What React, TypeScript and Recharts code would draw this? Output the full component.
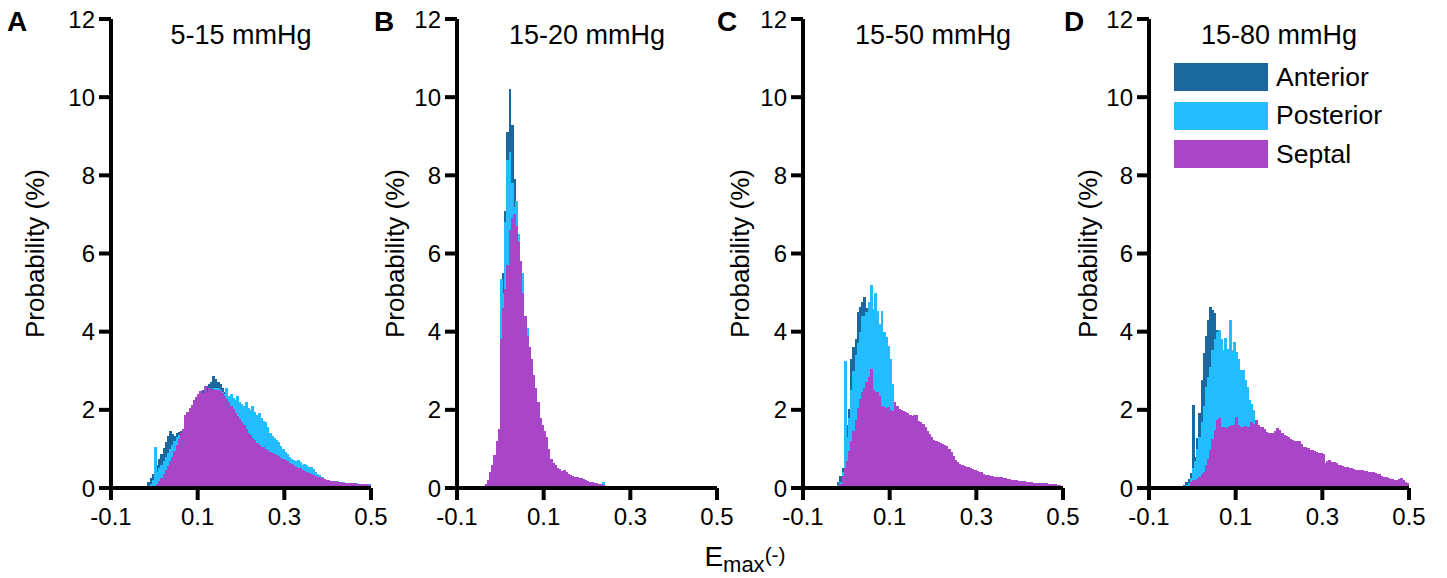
import React from 'react';
import { BarChart, Bar, XAxis, YAxis, Legend } from 'recharts';

// histogram bins: 0.005 wide, first bin starts at -0.04
const BIN_START = -0.04;
const BIN_WIDTH = 0.005;
const NBINS = 108;

const panelLetters = ['A', 'B', 'C', 'D'];
const panelTitles = ['5-15 mmHg', '15-20 mmHg', '15-50 mmHg', '15-80 mmHg'];
const seriesKeys = ['anterior', 'posterior', 'septal'];
const seriesNames = ['Anterior', 'Posterior', 'Septal'];
const seriesColors = ['#1b689e', '#22bcff', '#a846c7'];
const xTicks = [-0.1, 0.1, 0.3, 0.5];
const yTicks = [0, 2, 4, 6, 8, 10, 12];

// Panel A: 5-15 mmHg
const anteriorA = [0, 0, 0, 0, 0.05, 0.15, 0.25, 0.36, 0.45, 0.6, 0.74, 0.88, 1.02, 1.18, 1.32, 1.46, 1.38, 1.33, 1.4, 1.43, 1.45, 1.5, 1.75, 1.85, 1.95, 2.05, 2.15, 2.25, 2.35, 2.42, 2.5, 2.56, 2.62, 2.66, 2.72, 2.87, 2.8, 2.72, 2.66, 2.56, 2.45, 2.35, 2.28, 2.2, 2.1, 2.0, 1.9, 1.8, 1.7, 1.62, 1.55, 1.48, 1.4, 1.32, 1.25, 1.18, 1.12, 1.05, 1.0, 0.95, 0.9, 0.85, 0.8, 0.75, 0.7, 0.66, 0.62, 0.58, 0.54, 0.5, 0.47, 0.44, 0.41, 0.38, 0.35, 0.32, 0.3, 0.27, 0.25, 0.23, 0.21, 0.19, 0.17, 0.16, 0.15, 0.14, 0.13, 0.12, 0.11, 0.1, 0.09, 0.09, 0.08, 0.08, 0.07, 0.07, 0.06, 0.06, 0.05, 0.05, 0.05, 0.04, 0.04, 0.04, 0.03, 0.03, 0.03, 0.03];
const posteriorA = [0, 0, 0, 0, 0.01, 0.05, 0.1, 0.2, 1.05, 0.4, 0.5, 0.6, 0.7, 0.8, 0.9, 1.0, 1.1, 1.2, 1.3, 1.35, 1.4, 1.5, 1.6, 1.7, 1.8, 1.9, 2.0, 2.1, 2.2, 2.3, 2.35, 2.4, 2.45, 2.5, 2.5, 2.55, 2.55, 2.55, 2.5, 2.45, 2.4, 2.55, 2.35, 2.4, 2.3, 2.25, 2.35, 2.2, 2.15, 2.1, 2.2, 2.05, 2.0, 2.1, 1.95, 1.88, 1.92, 1.8, 1.72, 1.68, 1.55, 1.4, 1.32, 1.28, 1.22, 1.17, 1.08, 1.0, 0.92, 0.86, 0.8, 0.75, 0.72, 0.68, 0.72, 0.66, 0.6, 0.62, 0.58, 0.55, 0.53, 0.48, 0.42, 0.36, 0.32, 0.27, 0.23, 0.21, 0.2, 0.19, 0.18, 0.18, 0.17, 0.16, 0.16, 0.15, 0.14, 0.14, 0.13, 0.13, 0.12, 0.12, 0.11, 0.11, 0.1, 0.1, 0.1, 0.09];
const septalA = [0, 0, 0, 0, 0, 0, 0, 0, 0.03, 0.1, 0.18, 0.26, 0.35, 0.45, 0.56, 0.68, 0.8, 0.95, 1.1, 1.25, 1.42, 1.52, 1.88, 1.95, 2.05, 2.12, 2.25, 2.32, 2.4, 2.48, 2.42, 2.6, 2.45, 2.55, 2.5, 2.53, 2.52, 2.5, 2.48, 2.42, 2.36, 2.28, 2.2, 2.1, 2.02, 1.93, 1.85, 1.76, 1.68, 1.6, 1.5, 1.42, 1.36, 1.28, 1.22, 1.15, 1.1, 1.06, 1.04, 1.0, 0.97, 0.93, 0.9, 0.87, 0.84, 0.81, 0.78, 0.75, 0.71, 0.68, 0.64, 0.61, 0.58, 0.55, 0.52, 0.5, 0.47, 0.44, 0.41, 0.39, 0.36, 0.34, 0.31, 0.29, 0.27, 0.25, 0.23, 0.21, 0.2, 0.19, 0.18, 0.17, 0.16, 0.16, 0.15, 0.14, 0.14, 0.13, 0.13, 0.12, 0.12, 0.11, 0.11, 0.1, 0.1, 0.09, 0.09, 0.08];

// Panel B: 15-20 mmHg
const anteriorB = [0, 0, 0.05, 0.2, 0.4, 0.7, 1.0, 1.4, 3.5, 5.5, 7.1, 9.1, 10.2, 9.3, 7.9, 6.4, 6.0, 5.5, 4.8, 4.2, 3.7, 3.4, 3.1, 2.7, 2.4, 2.0, 1.7, 1.5, 1.35, 1.2, 0.95, 0.7, 0.6, 0.54, 0.48, 0.44, 0.4, 0.42, 0.37, 0.34, 0.3, 0.28, 0.26, 0.24, 0.23, 0.22, 0.2, 0.18, 0.16, 0.14, 0.13, 0.12, 0.1, 0.09, 0.08, 0.06, 0.05, 0.04, 0.03, 0.02, 0.02, 0.01];
const posteriorB = [0, 0.05, 0.15, 0.3, 0.5, 0.8, 1.1, 1.45, 5.35, 5.0, 6.8, 8.4, 8.6, 7.8, 7.2, 7.35, 6.5, 5.8, 5.5, 4.4, 4.1, 3.5, 3.2, 2.8, 2.5, 2.1, 1.75, 1.55, 1.4, 1.25, 0.98, 0.72, 0.62, 0.56, 0.5, 0.46, 0.42, 0.45, 0.39, 0.35, 0.32, 0.3, 0.28, 0.26, 0.25, 0.24, 0.23, 0.2, 0.17, 0.15, 0.14, 0.12, 0.11, 0.1, 0.09, 0.15, 0.05, 0.04, 0.03, 0.02, 0.02, 0.01];
const septalB = [0, 0.1, 0.2, 0.4, 0.6, 0.85, 1.2, 1.5, 3.8, 4.6, 5.1, 5.7, 6.6, 6.9, 7.0, 6.7, 6.3, 5.8, 5.0, 4.4, 3.9, 3.6, 3.3, 2.9, 2.55, 2.2, 1.8, 1.6, 1.45, 1.3, 1.0, 0.75, 0.65, 0.58, 0.52, 0.48, 0.44, 0.47, 0.41, 0.37, 0.33, 0.31, 0.29, 0.27, 0.26, 0.25, 0.22, 0.2, 0.18, 0.16, 0.15, 0.13, 0.12, 0.11, 0.1, 0.08, 0.06, 0.05, 0.04, 0.03, 0.02, 0.02, 0.01];

// Panel C: 15-50 mmHg
const anteriorC = [0.01, 0.01, 0.02, 0.05, 0.15, 0.3, 0.5, 1.1, 1.6, 2.02, 3.3, 3.6, 3.81, 4.5, 4.62, 4.76, 4.88, 4.6, 4.4, 4.1, 3.8, 3.5, 3.2, 2.9, 2.6, 2.3, 2.0, 1.8, 1.6, 1.4, 1.25, 1.1, 1.0, 0.9, 0.8, 0.72, 0.65, 0.6, 0.55, 0.5, 0.46, 0.42, 0.38, 0.35, 0.32, 0.3, 0.27, 0.25, 0.23, 0.21, 0.2, 0.18, 0.17, 0.16, 0.15, 0.14, 0.13, 0.12, 0.11, 0.11, 0.1, 0.1, 0.09, 0.09, 0.08, 0.08, 0.07, 0.07, 0.06, 0.06, 0.06, 0.05, 0.05, 0.05, 0.04, 0.04, 0.04, 0.04, 0.03, 0.03, 0.03, 0.03, 0.03, 0.02, 0.02, 0.02, 0.02, 0.02, 0.02, 0.02];
const posteriorC = [0, 0, 0.02, 0.04, 0.08, 0.15, 0.4, 3.26, 1.3, 1.8, 2.5, 3.0, 3.4, 3.7, 4.0, 4.4, 4.4, 4.5, 4.76, 5.2, 4.58, 5.0, 4.54, 4.2, 4.54, 4.0, 3.86, 3.64, 3.3, 2.66, 2.2, 2.0, 1.85, 1.75, 1.65, 1.55, 1.45, 1.35, 1.25, 1.15, 1.05, 0.98, 0.9, 0.82, 0.75, 0.68, 0.62, 0.56, 0.5, 0.46, 0.42, 0.38, 0.35, 0.32, 0.29, 0.27, 0.25, 0.23, 0.21, 0.2, 0.18, 0.17, 0.16, 0.15, 0.14, 0.13, 0.12, 0.11, 0.1, 0.1, 0.09, 0.09, 0.08, 0.08, 0.07, 0.07, 0.06, 0.06, 0.05, 0.05, 0.05, 0.04, 0.04, 0.04, 0.03, 0.03, 0.03, 0.03, 0.02, 0.02, 0.02];
const septalC = [0, 0, 0, 0.02, 0.05, 0.1, 0.3, 0.5, 0.7, 0.95, 1.2, 1.45, 1.75, 2.05, 2.28, 2.45, 2.55, 2.7, 2.83, 3.05, 2.5, 2.45, 2.45, 2.36, 2.1, 2.07, 2.05, 2.07, 2.0, 1.98, 2.2, 2.1, 2.02, 2.0, 1.97, 1.94, 1.92, 1.88, 1.85, 1.88, 1.88, 1.72, 1.68, 1.64, 1.55, 1.47, 1.38, 1.3, 1.22, 1.2, 1.18, 1.16, 1.13, 1.1, 1.08, 1.0, 0.92, 0.82, 0.72, 0.66, 0.62, 0.6, 0.56, 0.54, 0.53, 0.5, 0.48, 0.46, 0.44, 0.42, 0.4, 0.36, 0.33, 0.32, 0.3, 0.3, 0.29, 0.28, 0.28, 0.27, 0.26, 0.25, 0.23, 0.22, 0.21, 0.21, 0.2, 0.19, 0.18, 0.17, 0.17, 0.16, 0.16, 0.15, 0.14, 0.14, 0.13, 0.13, 0.13, 0.12, 0.12, 0.11, 0.11, 0.1, 0.09, 0.08, 0.07, 0.06];

// Panel D: 15-80 mmHg
const anteriorD = [0, 0.02, 0.03, 0.05, 0.08, 0.15, 0.22, 0.38, 2.12, 0.8, 1.28, 1.92, 2.76, 3.45, 3.9, 4.3, 4.64, 4.55, 4.47, 4.04, 3.8, 3.4, 3.1, 2.8, 2.5, 2.3, 2.1, 1.9, 1.7, 1.55, 1.4, 1.3, 1.2, 1.1, 1.0, 0.92, 0.85, 0.78, 0.72, 0.66, 0.6, 0.56, 0.52, 0.48, 0.45, 0.42, 0.4, 0.38, 0.36, 0.34, 0.32, 0.3, 0.28, 0.27, 0.25, 0.24, 0.23, 0.22, 0.21, 0.2, 0.19, 0.18, 0.18, 0.17, 0.16, 0.16, 0.15, 0.15, 0.14, 0.14, 0.13, 0.13, 0.12, 0.12, 0.12, 0.11, 0.11, 0.11, 0.1, 0.1, 0.1, 0.1, 0.09, 0.09, 0.09, 0.09, 0.09, 0.08, 0.08, 0.08, 0.08, 0.08, 0.08, 0.07, 0.07, 0.07, 0.07, 0.07, 0.07, 0.06, 0.06, 0.06, 0.06, 0.06, 0.06, 0.05, 0.05, 0.05];
const posteriorD = [0, 0.01, 0.02, 0.03, 0.05, 0.08, 0.12, 0.25, 0.5, 0.7, 1.0, 1.3, 1.7, 2.1, 2.59, 2.85, 3.1, 3.53, 3.8, 4.0, 4.04, 3.8, 3.53, 3.83, 3.55, 4.3, 3.53, 3.74, 3.49, 3.3, 3.02, 3.02, 2.76, 2.59, 2.25, 2.15, 2.0, 1.7, 1.55, 1.45, 1.35, 1.25, 1.18, 1.1, 1.05, 1.0, 0.95, 0.9, 0.85, 0.8, 0.76, 0.72, 0.68, 0.64, 0.6, 0.57, 0.54, 0.51, 0.48, 0.45, 0.43, 0.41, 0.39, 0.37, 0.35, 0.33, 0.31, 0.3, 0.28, 0.27, 0.26, 0.25, 0.24, 0.23, 0.22, 0.21, 0.2, 0.19, 0.18, 0.17, 0.16, 0.16, 0.15, 0.15, 0.14, 0.14, 0.13, 0.13, 0.12, 0.12, 0.11, 0.11, 0.11, 0.1, 0.1, 0.1, 0.09, 0.09, 0.09, 0.09, 0.08, 0.08, 0.08, 0.08, 0.08, 0.07, 0.07, 0.07];
const septalD = [0, 0, 0, 0, 0, 0, 0.05, 0.15, 0.2, 0.2, 0.22, 0.28, 0.35, 0.42, 0.6, 0.75, 0.97, 1.25, 1.48, 1.74, 1.79, 1.57, 1.55, 1.53, 1.55, 1.58, 1.61, 1.6, 1.82, 1.6, 1.57, 1.55, 1.58, 1.56, 1.57, 1.7, 1.65, 1.74, 1.62, 1.57, 1.55, 1.5, 1.44, 1.42, 1.4, 1.4, 1.45, 1.53, 1.48, 1.4, 1.36, 1.33, 1.3, 1.25, 1.23, 1.2, 1.19, 1.19, 1.12, 1.06, 1.05, 1.03, 0.97, 0.98, 0.95, 0.93, 0.9, 0.89, 0.88, 0.64, 0.7, 0.72, 0.67, 0.66, 0.64, 0.6, 0.59, 0.57, 0.55, 0.53, 0.51, 0.5, 0.48, 0.47, 0.46, 0.46, 0.45, 0.44, 0.43, 0.42, 0.42, 0.4, 0.38, 0.37, 0.35, 0.3, 0.29, 0.28, 0.25, 0.23, 0.22, 0.21, 0.2, 0.22, 0.26, 0.2, 0.16, 0.12];

const panelSeries = [
  [anteriorA, posteriorA, septalA],
  [anteriorB, posteriorB, septalB],
  [anteriorC, posteriorC, septalC],
  [anteriorD, posteriorD, septalD],
];

// layout of the page (page pixels)
const axisX = [111, 457, 803, 1149];
const letterLeft = [7, 374, 717, 1064];
const yLabelOffset = [-16, -2, -3, -1];

const PLOT_LEFT = 100;
const PLOT_W = 260;
const CHART_W = 376;
const CHART_H = 578;
const FONT = '"Liberation Sans", Arial, Helvetica, sans-serif';

function buildBins(series: number[][]) {
  const rows: Record<string, number>[] = [];
  for (let i = 0; i < NBINS; i++) {
    const row: Record<string, number> = { x: +(BIN_START + BIN_WIDTH * (i + 0.5)).toFixed(4) };
    seriesKeys.forEach((key, j) => {
      row[key] = series[j][i] ?? 0;
    });
    rows.push(row);
  }
  return rows;
}

// widen each bin slightly so neighbouring bars touch
const HistRect = (props: any) => {
  const { x, y, width, height, fill } = props;
  if (!height || height <= 0) return null;
  return <rect x={x - 0.4} y={y} width={width + 0.8} height={height} fill={fill} shapeRendering="crispEdges" />;
};

const LegendBox = (props: any) => {
  const { payload } = props;
  return (
    <div style={{ fontFamily: FONT }}>
      {(payload || []).map((entry: any) => (
        <div key={entry.value} style={{ display: 'flex', alignItems: 'center', height: 38.5 }}>
          <div style={{ width: 94, height: 28, background: entry.color }} />
          <span style={{ marginLeft: 8, fontSize: 26.5, color: '#000' }}>{entry.value}</span>
        </div>
      ))}
    </div>
  );
};

const axisStroke = { stroke: '#000', strokeWidth: 4 };

const Panel = ({ k }: { k: number }) => {
  const data = buildBins(panelSeries[k]);
  return (
    <div style={{ position: 'absolute', left: axisX[k] - PLOT_LEFT, top: 0 }}>
      <BarChart
        width={CHART_W}
        height={CHART_H}
        data={data}
        margin={{ top: 19, right: CHART_W - PLOT_LEFT - PLOT_W, bottom: 60, left: 40 }}
        barCategoryGap={0}
        barGap={0}
      >
        <XAxis xAxisId="anterior" dataKey="x" type="number" domain={[-0.1, 0.5]} allowDataOverflow hide height={0} orientation="top" />
        <XAxis xAxisId="posterior" dataKey="x" type="number" domain={[-0.1, 0.5]} allowDataOverflow hide height={0} orientation="top" />
        {seriesKeys.map((key, j) => (
          <Bar
            key={key}
            xAxisId={key}
            dataKey={key}
            name={seriesNames[j]}
            fill={seriesColors[j]}
            shape={HistRect}
            isAnimationActive={false}
          />
        ))}
        <XAxis
          xAxisId="septal"
          dataKey="x"
          type="number"
          domain={[-0.1, 0.5]}
          allowDataOverflow
          height={30}
          ticks={xTicks}
          interval={0}
          tickFormatter={(v: number) => v.toFixed(1)}
          axisLine={axisStroke}
          tickLine={axisStroke}
          tickSize={12}
          tickMargin={8}
          tick={{ fill: '#000', fontSize: 24 }}
        />
        <YAxis
          type="number"
          domain={[0, 12]}
          ticks={yTicks}
          interval={0}
          width={60}
          axisLine={axisStroke}
          tickLine={axisStroke}
          tickSize={12}
          tickMargin={4}
          tick={{ fill: '#000', fontSize: 24 }}
          label={{
            value: 'Probability (%)',
            angle: -90,
            position: 'insideLeft',
            offset: yLabelOffset[k],
            style: { textAnchor: 'middle', fill: '#000', fontSize: 26 },
          }}
        />
        {k === 3 && (
          <Legend
            layout="vertical"
            align="center"
            verticalAlign="middle"
            content={<LegendBox />}
            wrapperStyle={{ top: 58, left: 125, width: 'auto' }}
          />
        )}
      </BarChart>
    </div>
  );
};

export default function App() {
  return (
    <div
      style={{
        position: 'absolute',
        left: 0,
        top: 0,
        width: 1447,
        height: 578,
        background: '#fff',
        fontFamily: FONT,
        color: '#000',
        overflow: 'hidden',
      }}
    >
      {panelLetters.map((letter, k) => (
        <Panel key={letter} k={k} />
      ))}
      {panelLetters.map((letter, k) => (
        <div
          key={'l' + letter}
          style={{ position: 'absolute', left: letterLeft[k], top: 8, fontSize: 28, fontWeight: 'bold', lineHeight: 1 }}
        >
          {letter}
        </div>
      ))}
      {panelTitles.map((title, k) => (
        <div
          key={title}
          style={{
            position: 'absolute',
            left: axisX[k] + PLOT_W / 2 - 150,
            width: 300,
            top: 22,
            textAlign: 'center',
            fontSize: 27,
            lineHeight: 1,
          }}
        >
          {title}
        </div>
      ))}
      <div style={{ position: 'absolute', left: 645, width: 200, top: 543, textAlign: 'center', fontSize: 28, lineHeight: 1, whiteSpace: 'nowrap' }}>
        E
        <span style={{ fontSize: 22, position: 'relative', top: 6 }}>max</span>
        <span style={{ fontSize: 21, position: 'relative', top: -4 }}>(-)</span>
      </div>
    </div>
  );
}
